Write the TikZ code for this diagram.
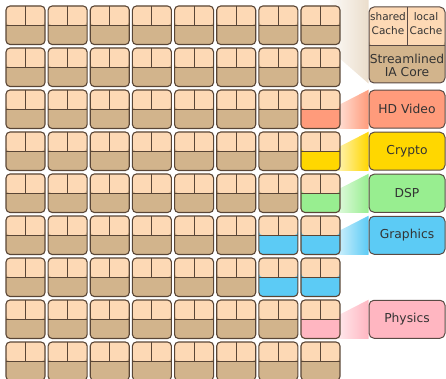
\documentclass[tikz,border=0pt]{standalone}
\usepackage{fontspec}
\setmainfont{DejaVu Sans}
\usetikzlibrary{fadings}
\pgfdeclarelayer{bg}
\pgfsetlayers{bg,main}
\definecolor{peachC}{HTML}{FDD9B5}
\definecolor{tanC}{HTML}{D2B48C}
\definecolor{lineC}{HTML}{5A4636}
\definecolor{boxline}{HTML}{5A4A44}
\definecolor{textC}{HTML}{333333}
\definecolor{hdC}{HTML}{FF9B7B}
\definecolor{cryC}{HTML}{FFD700}
\definecolor{dspC}{HTML}{98EE90}
\definecolor{gfxC}{HTML}{5CCBF5}
\definecolor{phyC}{HTML}{FFB6C1}
\tikzfading[name=fadeleft, left color=transparent!85, right color=transparent!0]
\begin{document}
\begin{tikzpicture}[x=1pt,y=-1pt,
  cellbox/.style={draw=lineC, line width=1.1pt, rounded corners=4pt,
    minimum width=39pt, minimum height=38.5pt, inner sep=0pt, fill=tanC,
    path picture={
      \fill[peachC] (path picture bounding box.north west) rectangle (path picture bounding box.east);
      \draw[lineC, line width=1.1pt] (path picture bounding box.west) -- (path picture bounding box.east);
      \draw[lineC, line width=1.1pt] (path picture bounding box.north) -- (path picture bounding box.center);}},
  unitbox/.style={draw=boxline, line width=1pt, rounded corners=5pt,
    minimum width=76pt, minimum height=38pt, inner sep=0pt,
    font=\fontsize{12.3}{14}\selectfont, text=textC},
  smalltxt/.style={font=\fontsize{10.5}{13.5}\selectfont, text=textC, align=center, inner sep=0pt},
  midtxt/.style={font=\fontsize{12.3}{12.5}\selectfont, text=textC, align=center, inner sep=0pt},
  funnel/.style={path fading=fadeleft}
]
\useasboundingbox (0,0) rectangle (446,379);

% grid of cores
\foreach \i in {0,...,7}{\foreach \j in {0,...,8}{
  \def\cellcol{tanC}%
  \ifnum\i=7 \ifnum\j=2 \def\cellcol{hdC}\fi\ifnum\j=3 \def\cellcol{cryC}\fi\ifnum\j=4 \def\cellcol{dspC}\fi\ifnum\j=5 \def\cellcol{gfxC}\fi\ifnum\j=6 \def\cellcol{gfxC}\fi\ifnum\j=7 \def\cellcol{phyC}\fi\fi
  \ifnum\i=6 \ifnum\j=5 \def\cellcol{gfxC}\fi\ifnum\j=6 \def\cellcol{gfxC}\fi\fi
  \node[cellbox, fill=\cellcol] (c-\i-\j) at ({25.5+42.14*\i},{25.25+42*\j}) {};
}}

% legend box
\node[unitbox, minimum height=76pt, fill=tanC,
  path picture={
    \fill[peachC] (path picture bounding box.north west) rectangle ([yshift=-1pt]path picture bounding box.east);
    \draw[boxline, line width=1pt] ([yshift=-1pt]path picture bounding box.west) -- ([yshift=-1pt]path picture bounding box.east);
    \draw[boxline, line width=1pt] (path picture bounding box.north) -- ([yshift=-1pt]path picture bounding box.center);}]
  (legend) at (407,45) {};
\node[smalltxt] (shared) at (388,23.5) {shared\\Cache};
\node[smalltxt] (local) at (426,23.5) {local\\Cache};
\node[midtxt] (core) at (407,65.5) {Streamlined\\IA Core};

% accelerator boxes
\node[unitbox, fill=hdC] (hd) at (407,109.25) {HD Video};
\node[unitbox, fill=cryC] (cry) at (407,151.25) {Crypto};
\node[unitbox, fill=dspC] (dsp) at (407,193.25) {DSP};
\node[unitbox, fill=gfxC] (gfx) at (407,235.25) {Graphics};
\node[unitbox, fill=phyC] (phy) at (407,319.25) {Physics};

% funnels
\begin{pgfonlayer}{bg}
\fill[tanC, funnel, fill opacity=0.45] (330,-2) -- (legend.north west |- 0,-2) -- (legend.south west) -- (330,50) -- cycle;
\fill[hdC, funnel] ([xshift=-10pt]c-7-2.east) -- (hd.north west) -- (hd.south west) -- ([xshift=-10pt]c-7-2.south east) -- cycle;
\fill[cryC, funnel] ([xshift=-10pt]c-7-3.east) -- (cry.north west) -- (cry.south west) -- ([xshift=-10pt]c-7-3.south east) -- cycle;
\fill[dspC, funnel] ([xshift=-10pt]c-7-4.east) -- (dsp.north west) -- (dsp.south west) -- ([xshift=-10pt]c-7-4.south east) -- cycle;
\fill[gfxC, funnel] ([xshift=-10pt]c-7-5.east) -- (gfx.north west) -- (gfx.south west) -- ([xshift=-10pt]c-7-5.south east) -- cycle;
\fill[phyC, funnel] ([xshift=-10pt]c-7-7.east) -- (phy.north west) -- (phy.south west) -- ([xshift=-10pt]c-7-7.south east) -- cycle;
\end{pgfonlayer}
\end{tikzpicture}
\end{document}
